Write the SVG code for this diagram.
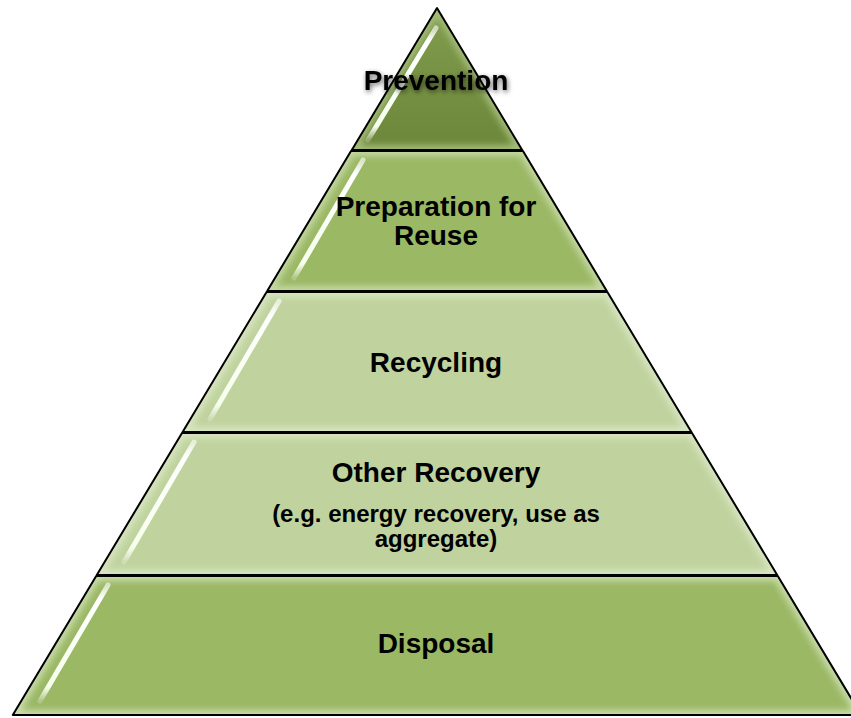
<svg xmlns="http://www.w3.org/2000/svg" width="851" height="718" viewBox="0 0 851 718">
<style>
.tier{stroke:#000;stroke-width:2;stroke-linejoin:round}
.glow{fill:none;stroke-width:10;filter:url(#blur)}
.hl{stroke:url(#hlg);stroke-width:5;stroke-linecap:round;fill:none}
.lbl{font-family:"Liberation Sans",Arial,sans-serif;font-weight:bold;font-size:28px;fill:#000;text-anchor:middle}
.sub{font-size:24px}
</style>
<defs>
<linearGradient id="g1" x1="0" y1="0" x2="0" y2="1"><stop offset="0" stop-color="#819c4d"/><stop offset="1" stop-color="#6c873a"/></linearGradient>
<linearGradient id="hlg" x1="0" y1="0" x2="0" y2="1"><stop offset="0" stop-color="#fff" stop-opacity="0.6"/><stop offset="0.12" stop-color="#fff" stop-opacity="1"/><stop offset="0.88" stop-color="#f6ffec" stop-opacity="1"/><stop offset="1" stop-color="#fff" stop-opacity="0.2"/></linearGradient>
<filter id="blur" x="-10%" y="-10%" width="120%" height="120%"><feGaussianBlur stdDeviation="3"/></filter>
<filter id="hlblur" x="-50%" y="-10%" width="200%" height="120%"><feGaussianBlur stdDeviation="0.6"/></filter>
<filter id="tshadow" x="-20%" y="-40%" width="140%" height="180%"><feDropShadow dx="1" dy="2" stdDeviation="2.5" flood-color="#000" flood-opacity="0.6"/></filter>
<clipPath id="c1"><polygon points="437,8 351.8,150 522.2,150"/></clipPath>
<clipPath id="c2"><polygon points="351,151 523,151 606.8,291 267.2,291"/></clipPath>
<clipPath id="c3"><polygon points="266.6,292 607.4,292 691.4,432 182.6,432"/></clipPath>
<clipPath id="c4"><polygon points="182,433 692,433 777.2,575 96.8,575"/></clipPath>
<clipPath id="c5"><polygon points="96.2,576 777.8,576 861.2,715 12.8,715"/></clipPath>
</defs>
<g id="connectors"/>
<g id="disposal">
<polygon points="96.2,576 777.8,576 861.2,715 12.8,715" fill="#9bb865"/>
<polygon clip-path="url(#c5)" class="glow" stroke="#c9dcaa" points="96.2,576 777.8,576 861.2,715 12.8,715"/>
<line class="hl" filter="url(#hlblur)" x1="108" y1="585" x2="40" y2="701"/>
<polygon class="tier" fill="none" points="96.2,576 777.8,576 861.2,715 12.8,715"/>
<text class="lbl" x="436" y="653">Disposal</text>
</g>
<g id="other-recovery">
<polygon points="182,433 692,433 777.2,575 96.8,575" fill="#c0d39e"/>
<polygon clip-path="url(#c4)" class="glow" stroke="#d8e5c2" points="182,433 692,433 777.2,575 96.8,575"/>
<line class="hl" filter="url(#hlblur)" x1="194" y1="442" x2="124" y2="562"/>
<polygon class="tier" fill="none" points="182,433 692,433 777.2,575 96.8,575"/>
<text class="lbl" x="436" y="482">Other Recovery</text>
<text class="lbl sub" x="436" y="522">(e.g. energy recovery, use as</text>
<text class="lbl sub" x="436" y="547">aggregate)</text>
</g>
<g id="recycling">
<polygon points="266.6,292 607.4,292 691.4,432 182.6,432" fill="#c0d39e"/>
<polygon clip-path="url(#c3)" class="glow" stroke="#d8e5c2" points="266.6,292 607.4,292 691.4,432 182.6,432"/>
<line class="hl" filter="url(#hlblur)" x1="279" y1="301" x2="210" y2="419"/>
<polygon class="tier" fill="none" points="266.6,292 607.4,292 691.4,432 182.6,432"/>
<text class="lbl" x="436" y="372">Recycling</text>
</g>
<g id="preparation-for-reuse">
<polygon points="351,151 523,151 606.8,291 267.2,291" fill="#9bb865"/>
<polygon clip-path="url(#c2)" class="glow" stroke="#c4d8a2" points="351,151 523,151 606.8,291 267.2,291"/>
<line class="hl" filter="url(#hlblur)" x1="363" y1="160" x2="294" y2="278"/>
<polygon class="tier" fill="none" points="351,151 523,151 606.8,291 267.2,291"/>
<text class="lbl" x="436" y="216">Preparation for</text>
<text class="lbl" x="436" y="245">Reuse</text>
</g>
<g id="prevention">
<polygon points="437,8 351.8,150 522.2,150" fill="url(#g1)"/>
<polygon clip-path="url(#c1)" class="glow" stroke="#a3bb78" points="437,8 351.8,150 522.2,150"/>
<line class="hl" filter="url(#hlblur)" x1="436" y1="28" x2="368" y2="140"/>
<polygon class="tier" fill="none" points="437,8 351.8,150 522.2,150"/>
<text class="lbl" x="436" y="90" filter="url(#tshadow)">Prevention</text>
</g>
</svg>
